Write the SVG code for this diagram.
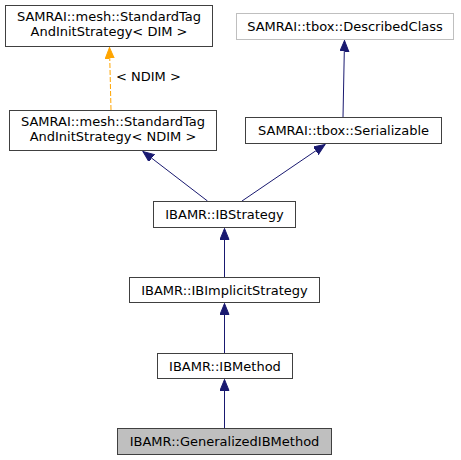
<svg xmlns="http://www.w3.org/2000/svg" width="461" height="460" viewBox="0 0 461 460">
<style>
  .box { fill: #ffffff; stroke: #404040; stroke-width: 1; }
  .gray { stroke: #bfbfbf; }
  .cur { fill: #bfbfbf; }
  text { font-family: "DejaVu Sans", "Liberation Sans", sans-serif; font-size: 13px; fill: #000000; text-anchor: middle; }
  .e { fill: none; stroke: #191970; stroke-width: 1; }
  .t { fill: none; stroke: #ffa500; stroke-width: 1; stroke-dasharray: 5,2; }
</style>
<defs>
  <marker id="ab" markerUnits="userSpaceOnUse" markerWidth="13" markerHeight="10" refX="11" refY="4.5" orient="auto">
    <polygon points="0,0 11,4.5 0,9" fill="#191970" stroke="#191970" stroke-width="1"/>
  </marker>
  <marker id="ao" markerUnits="userSpaceOnUse" markerWidth="13" markerHeight="10" refX="11" refY="4.5" orient="auto">
    <polygon points="0,0 11,4.5 0,9" fill="#ffa500" stroke="#ffa500" stroke-width="1"/>
  </marker>
</defs>
<rect width="461" height="460" fill="#ffffff"/>
<g id="edges">
  <line class="e" x1="224.5" y1="428" x2="224.5" y2="379.5" marker-end="url(#ab)"/>
  <line class="e" x1="224.5" y1="353" x2="224.5" y2="303.5" marker-end="url(#ab)"/>
  <line class="e" x1="224.5" y1="277" x2="224.5" y2="228.5" marker-end="url(#ab)"/>
  <line class="e" x1="207.5" y1="201" x2="143" y2="151.5" marker-end="url(#ab)"/>
  <line class="e" x1="242" y1="201" x2="325" y2="144.5" marker-end="url(#ab)"/>
  <line class="e" x1="343" y1="117" x2="344.5" y2="40.5" marker-end="url(#ab)"/>
  <line class="t" x1="111" y1="110" x2="109.5" y2="47.5" marker-end="url(#ao)"/>
  <text x="116" y="80.5" style="text-anchor:start">&lt; NDIM &gt;</text>
</g>
<g id="n_StandardTagDIM">
  <rect class="box" x="5.5" y="5.5" width="207" height="41"/>
  <text x="109" y="21">SAMRAI::mesh::StandardTag</text>
  <text x="109" y="36">AndInitStrategy&lt; DIM &gt;</text>
</g>
<g id="n_StandardTagNDIM">
  <rect class="box" x="9.5" y="110.5" width="207" height="40"/>
  <text x="113" y="126">SAMRAI::mesh::StandardTag</text>
  <text x="113" y="141">AndInitStrategy&lt; NDIM &gt;</text>
</g>
<g id="n_DescribedClass">
  <rect class="box gray" x="236.5" y="13.5" width="217" height="26"/>
  <text x="345" y="31">SAMRAI::tbox::DescribedClass</text>
</g>
<g id="n_Serializable">
  <rect class="box" x="245.5" y="117.5" width="196" height="26"/>
  <text x="343.5" y="135">SAMRAI::tbox::Serializable</text>
</g>
<g id="n_IBStrategy">
  <rect class="box" x="153.5" y="201.5" width="142" height="26"/>
  <text x="224.5" y="219">IBAMR::IBStrategy</text>
</g>
<g id="n_IBImplicitStrategy">
  <rect class="box" x="129.5" y="277.5" width="190" height="25"/>
  <text x="224.5" y="294.5">IBAMR::IBImplicitStrategy</text>
</g>
<g id="n_IBMethod">
  <rect class="box" x="157.5" y="353.5" width="135" height="25"/>
  <text x="225" y="370.5">IBAMR::IBMethod</text>
</g>
<g id="n_GeneralizedIBMethod">
  <rect class="box cur" x="117.5" y="428.5" width="214" height="26"/>
  <text x="224.5" y="446">IBAMR::GeneralizedIBMethod</text>
</g>
</svg>
